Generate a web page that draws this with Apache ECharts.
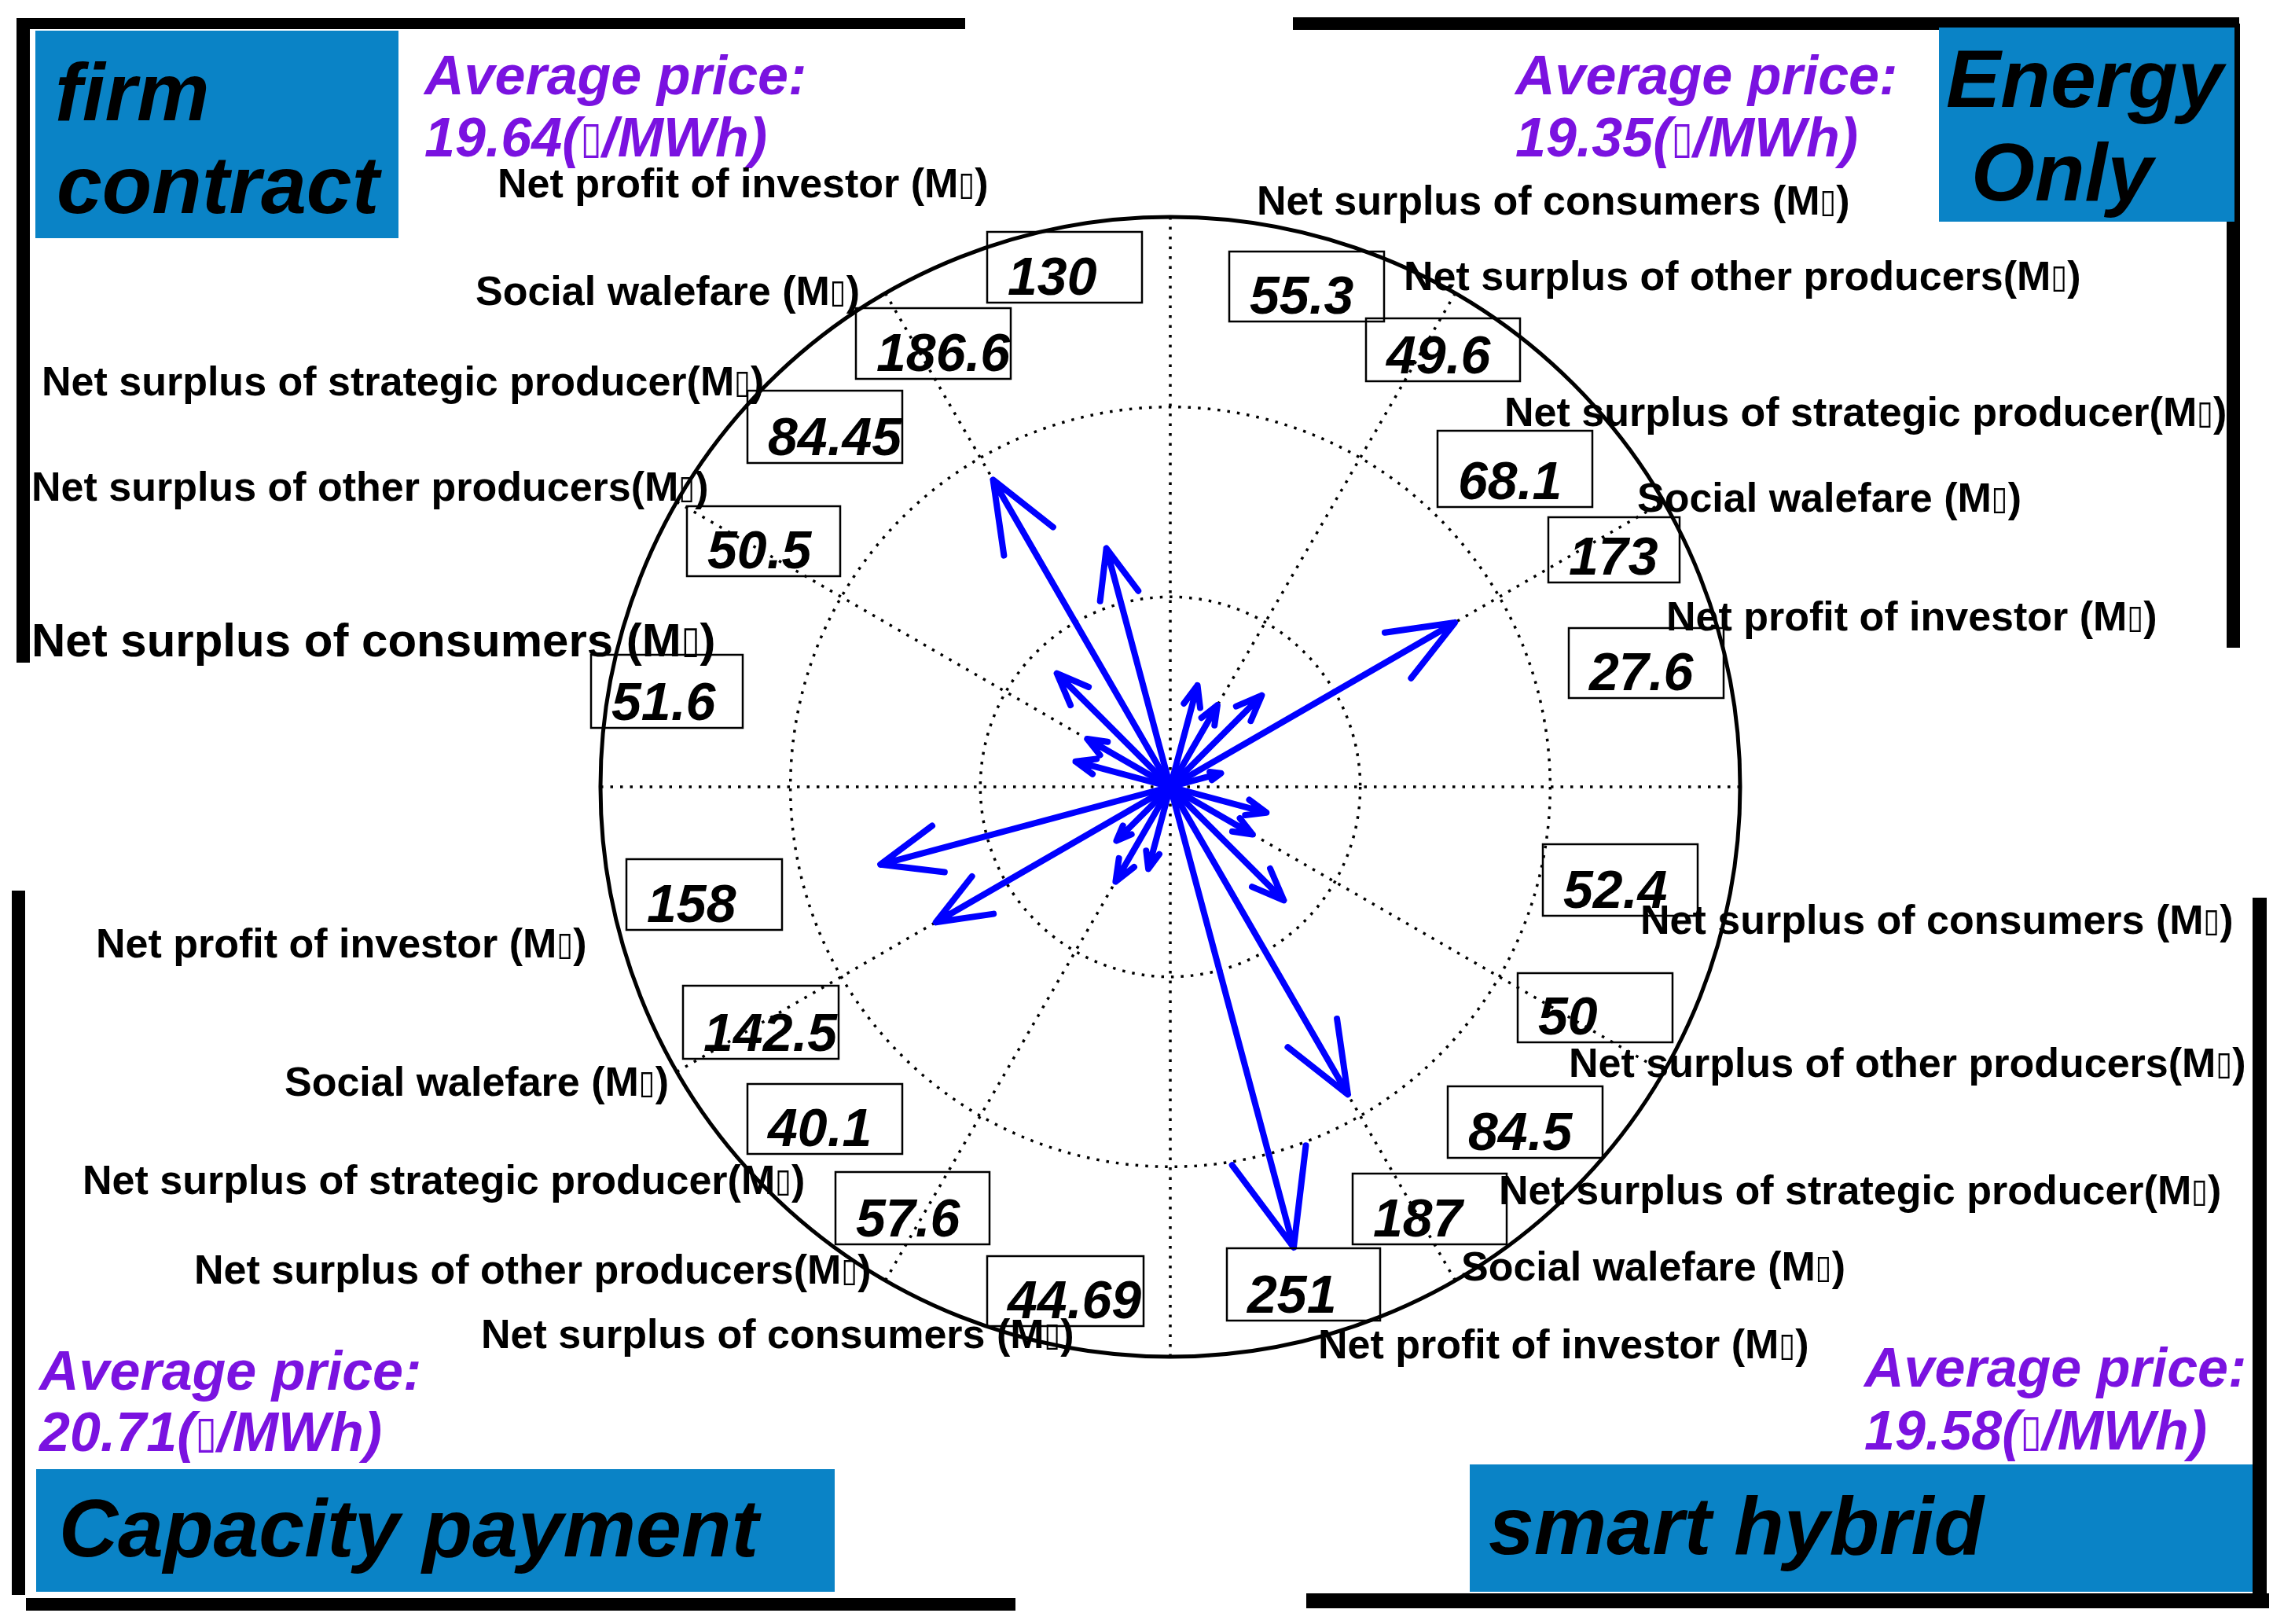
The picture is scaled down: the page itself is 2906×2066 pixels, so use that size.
<!DOCTYPE html>
<html>
<head>
<meta charset="utf-8">
<title>Market schemes compass</title>
<script src="https://cdn.jsdelivr.net/npm/echarts@6/dist/echarts.min.js"></script>
<style>
  html, body { margin: 0; padding: 0; background: #fff; }
  #chart { width: 2906px; height: 2066px; }
</style>
</head>
<body>
<div id="chart"></div>
<script>
  // --- data ---
  const categories = [
    'Net profit of investor (M\u25AF)',
    'Social walefare (M\u25AF)',
    'Net surplus of strategic producer(M\u25AF)',
    'Net surplus of other producers(M\u25AF)',
    'Net surplus of consumers (M\u25AF)'
  ];
  const schemeTitles = [['firm', 'contract'], ['Energy', 'Only'], ['Capacity payment'], ['smart hybrid']];
  const avgPrices = [19.64, 19.35, 20.71, 19.58];

  const firmValues = [130, 186.6, 84.45, 50.5, 51.6];
  const firmAngles = [105, 120, 135, 150, 165];
  const energyValues = [27.6, 173, 68.1, 49.6, 55.3];
  const energyAngles = [15, 30, 45, 60, 75];
  const capacityValues = [158, 142.5, 40.1, 57.6, 44.69];
  const capacityAngles = [195, 210, 225, 240, 255];
  const hybridValues = [251, 187, 84.5, 50, 52.4];
  const hybridAngles = [285, 300, 315, 330, 345];

  const radiusMax = 300;
  const radiusStep = 100;
  const angleStep = 30;

  // --- layout (pixels) ---
  const panels = [
    { // firm contract
      box: [45, 39, 462, 264], title: [[70, 150], [72, 268]], price: [540, 118, 197],
      valueBoxes: [[1256, 295, 197, 90], [1089, 392, 197, 90], [951, 497, 197, 92], [874, 644, 195, 89], [752, 833, 193, 93]],
      labels: [[633, 250, 52], [605, 387, 52], [53, 502, 52], [40, 636, 52], [40, 833, 60]]
    },
    { // energy only
      box: [2467, 35, 376, 247], title: [[2476, 133], [2508, 252]], price: [1928, 118, 197],
      valueBoxes: [[1996, 799, 197, 89], [1970, 658, 167, 83], [1829, 548, 197, 97], [1738, 405, 196, 80], [1564, 320, 197, 89]],
      labels: [[2120, 801, 52], [2083, 650, 52], [1914, 541, 52], [1786, 368, 52], [1599, 272, 52]]
    },
    { // capacity payment
      box: [46, 1869, 1016, 156], title: [[75, 1977]], price: [50, 1766, 1844],
      valueBoxes: [[797, 1093, 198, 90], [869, 1254, 198, 93], [951, 1379, 197, 89], [1063, 1491, 196, 92], [1256, 1598, 199, 89]],
      labels: [[122, 1217, 52], [362, 1393, 52], [105, 1518, 52], [247, 1632, 52], [612, 1714, 52]]
    },
    { // smart hybrid
      box: [1870, 1863, 996, 162], title: [[1894, 1974]], price: [2372, 1762, 1842],
      valueBoxes: [[1561, 1588, 195, 92], [1721, 1493, 196, 90], [1842, 1382, 197, 91], [1931, 1238, 197, 88], [1963, 1074, 197, 91]],
      labels: [[1677, 1727, 52], [1859, 1628, 52], [1907, 1531, 52], [1996, 1369, 52], [2087, 1187, 52]]
    }
  ];
  const frames = [
    [21, 23, 1207, 14], [21, 27, 17, 816],
    [1645, 22, 1204, 16], [2833, 30, 17, 794],
    [15, 1133, 17, 896], [33, 2033, 1259, 16],
    [2866, 1142, 18, 903], [1662, 2027, 1225, 19]
  ];

  const allValues = [firmValues, energyValues, capacityValues, hybridValues];
  const allAngles = [firmAngles, energyAngles, capacityAngles, hybridAngles];

  const FONT = '"Liberation Sans", Arial, "DejaVu Sans", sans-serif';
  const BLUE_BOX = '#0A83C6';
  const PURPLE = '#7A12E0';

  // the missing-glyph box is drawn narrower, as in the picture
  function richText(str, size, italic) {
    const parts = str.split('\u25AF');
    if (parts.length === 1) return { text: str, rich: null };
    return { text: '{n|' + parts[0] + '}{g|\u25AF}{n|' + parts[1] + '}', rich: true };
  }

  function txt(x, baseline, str, size, opts) {
    opts = opts || {};
    const font = (opts.italic ? 'italic ' : '') + 'bold ' + size + 'px ' + FONT;
    const color = opts.color || '#000';
    const r = richText(str, size, opts.italic);
    const style = {
      text: r.text, font: font, fill: color,
      align: 'left', verticalAlign: 'middle'
    };
    if (r.rich) {
      style.rich = {
        n: { font: font, fill: color },
        g: { font: 'normal ' + Math.round(size * 0.8) + 'px "DejaVu Sans Condensed", "DejaVu Sans", sans-serif', fill: color }
      };
    }
    return { type: 'text', x: x, y: baseline - 0.25 * size, silent: true, z: 10, style: style };
  }

  const graphics = [];
  frames.forEach(function (f) {
    graphics.push({ type: 'rect', silent: true, z: 5, shape: { x: f[0], y: f[1], width: f[2], height: f[3] }, style: { fill: '#000' } });
  });
  panels.forEach(function (p, q) {
    graphics.push({ type: 'rect', silent: true, z: 5, shape: { x: p.box[0], y: p.box[1], width: p.box[2], height: p.box[3] }, style: { fill: BLUE_BOX } });
    schemeTitles[q].forEach(function (line, k) {
      graphics.push(txt(p.title[k][0], p.title[k][1], line, 104, { italic: true }));
    });
    graphics.push(txt(p.price[0], p.price[1], 'Average price:', 70, { italic: true, color: PURPLE }));
    graphics.push(txt(p.price[0], p.price[2], avgPrices[q].toFixed(2) + '(\u25AF/MWh)', 70, { italic: true, color: PURPLE }));
    categories.forEach(function (name, i) {
      const l = p.labels[i];
      graphics.push(txt(l[0], l[1], name, l[2]));
      const b = p.valueBoxes[i];
      graphics.push({ type: 'rect', silent: true, z: 10, shape: { x: b[0], y: b[1], width: b[2], height: b[3] }, style: { fill: null, stroke: '#000', lineWidth: 2.5 } });
      graphics.push(txt(b[0] + 26, b[1] + b[3] - 12, String(allValues[q][i]), 68, { italic: true }));
    });
  });

  const arrowData = [];
  allValues.forEach(function (vals, q) {
    vals.forEach(function (v, i) { arrowData.push([v, allAngles[q][i]]); });
  });

  function renderArrow(params, api) {
    const o = api.coord([0, api.value(1)]);
    const t = api.coord([api.value(0), api.value(1)]);
    const dx = t[0] - o[0], dy = t[1] - o[1];
    const b1 = [o[0] + 0.8 * dx - 0.08 * dy, o[1] + 0.8 * dy + 0.08 * dx];
    const b2 = [o[0] + 0.8 * dx + 0.08 * dy, o[1] + 0.8 * dy - 0.08 * dx];
    return {
      type: 'polyline',
      shape: { points: [o, t, b1, t, b2] },
      style: { stroke: '#0000FF', lineWidth: 8, fill: null, lineJoin: 'round', lineCap: 'round' }
    };
  }

  const dotted = { color: '#000', width: 3.5, type: [3.5, 9] };

  const chart = echarts.init(document.getElementById('chart'), null, { renderer: 'canvas' });
  chart.setOption({
    backgroundColor: '#fff',
    animation: false,
    polar: { center: [1489, 1001], radius: 725 },
    angleAxis: {
      type: 'value', min: 0, max: 360, interval: angleStep,
      startAngle: 0, clockwise: false,
      axisLine: { show: true, lineStyle: { color: '#000', width: 5 } },
      axisTick: { show: false }, axisLabel: { show: false },
      splitLine: { show: true, lineStyle: dotted }
    },
    radiusAxis: {
      type: 'value', min: 0, max: radiusMax, interval: radiusStep,
      axisLine: { show: false }, axisTick: { show: false }, axisLabel: { show: false },
      splitLine: { show: true, lineStyle: dotted }
    },
    series: [{
      type: 'custom',
      coordinateSystem: 'polar',
      encode: { radius: 0, angle: 1 },
      renderItem: renderArrow,
      data: arrowData,
      z: 3
    }],
    graphic: { elements: graphics }
  });
</script>
</body>
</html>
